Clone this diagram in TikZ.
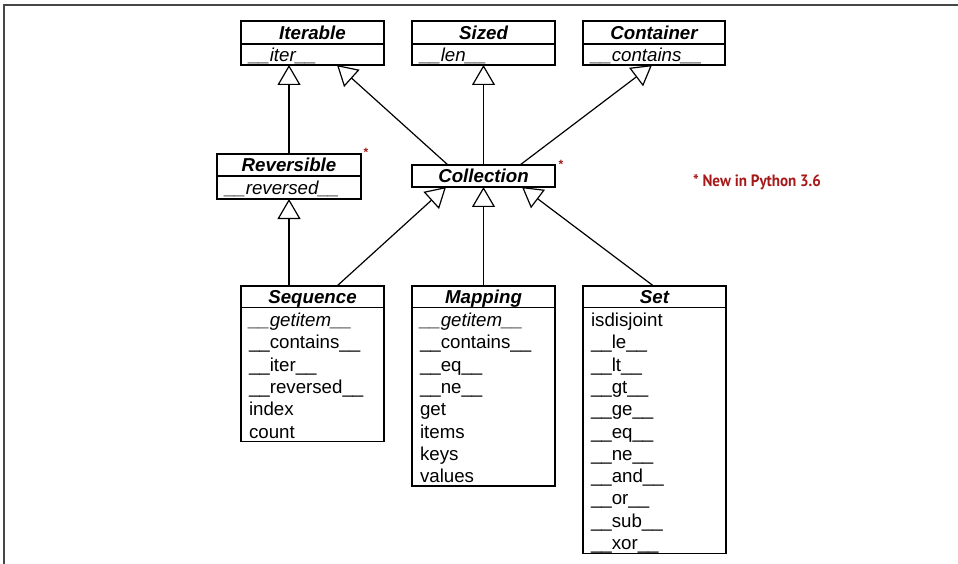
\documentclass[tikz,border=0pt]{standalone}
\usepackage{fontspec}
\setmainfont{Liberation Sans}
\newfontfamily\notefont{PT Sans}
\usetikzlibrary{arrows.meta}
\definecolor{notered}{RGB}{165,25,25}
\definecolor{framegray}{RGB}{70,70,70}
\newcommand\rs{\rule[-3.3pt]{0pt}{22.3pt}}
\newcommand\us{\_\_}
\newcommand\tightlines{\lineskiplimit=-100pt\relax\lineskip=0pt\relax}
\begin{document}
\begin{tikzpicture}[x=1pt,y=-1pt,
  every node/.style={inner sep=0pt, outer sep=0pt},
  hdr/.style={draw, line width=1.3pt, anchor=north west, minimum width=143pt,
    minimum height=22pt, font=\fontsize{18.7}{22.3}\selectfont\bfseries\itshape,
    text height=14pt, text depth=0pt},
  meth/.style={draw, line width=1.3pt, anchor=north west, minimum width=143pt,
    minimum height=21pt, font=\fontsize{18.7}{22.3}\selectfont\itshape,
    text height=14pt, text depth=0pt, text width=127pt, align=left, inner xsep=8pt},
  bodybox/.style={draw, line width=1.3pt, anchor=north west, text width=127pt,
    inner xsep=8pt, inner ysep=0pt, align=left,
    font=\fontsize{18.7}{22.3}\selectfont\tightlines},
  gen/.style={line width=1.2pt, -{Triangle[open,length=20pt,width=23pt,line width=1.2pt]}},
  star/.style={text=notered, font=\fontsize{12}{12}\selectfont\bfseries},
  frame/.style={draw=framegray, line width=1.6pt}
]
\useasboundingbox (0,0) rectangle (958,564);
\draw[frame] (4,564) -- (4,5) -- (958,5);

% top row
\node[hdr, minimum height=23pt] (iterH) at (241,21) {Iterable};
\node[meth] (iterB) at (241,44) {\us iter\us};
\node[hdr, minimum height=23pt] (sizH) at (412,21) {Sized};
\node[meth] (sizB) at (412,44) {\us len\us};
\node[hdr, minimum height=23pt, minimum width=142pt] (conH) at (583,21) {Container};
\node[meth, minimum width=142pt, text width=126pt] (conB) at (583,44) {\us contains\us};

% middle row
\node[hdr, minimum width=144pt] (revH) at (217,154) {Reversible};
\node[meth, minimum width=144pt, minimum height=23pt, text width=128pt] (revB) at (217,176) {\us reversed\us};
\node[hdr] (coll) at (412,165) {Collection};

\node[star] (s1) at (366,152) {*};
\node[star] (s2) at (561,164) {*};

\node[text=notered, anchor=center] (note) at (757,182)
  {\resizebox{128pt}{12pt}{\notefont\bfseries * New in Python 3.6}};

% bottom row
\node[hdr, minimum height=21.5pt] (seqH) at (241,286) {Sequence};
\node[bodybox] (seqB) at (241,307.5) {\rs\textit{\us getitem\us}\\\rs\us contains\us\\\rs\us iter\us\\\rs\us reversed\us\\\rs index\\\rs count};
\node[hdr, minimum height=21.5pt] (mapH) at (412,286) {Mapping};
\node[bodybox] (mapB) at (412,307.5) {\rs\textit{\us getitem\us}\\\rs\us contains\us\\\rs\us eq\us\\\rs\us ne\us\\\rs get\\\rs items\\\rs keys\\\rs values};
\node[hdr, minimum height=21.5pt] (setH) at (583,286) {Set};
\node[bodybox] (setB) at (583,307.5) {\rs isdisjoint\\\rs\us le\us\\\rs\us lt\us\\\rs\us gt\us\\\rs\us ge\us\\\rs\us eq\us\\\rs\us ne\us\\\rs\us and\us\\\rs\us or\us\\\rs\us sub\us\\\rs\us xor\us};

% generalizations
\draw[gen] (revH.north) -- (revH.north |- iterB.south);
\draw[gen] ([xshift=-35.5pt]coll.north) -- ([xshift=24.5pt]iterB.south);
\draw[gen] (coll.north) -- (sizB.south);
\draw[gen] ([xshift=36.5pt]coll.north) -- ([xshift=-2pt]conB.south);
\draw[gen] (revB.south |- seqH.north) -- (revB.south);
\draw[gen] ([xshift=24.5pt]seqH.north) -- ([xshift=-37.5pt]coll.south);
\draw[gen] (mapH.north) -- (coll.south);
\draw[gen] ([xshift=-1pt]setH.north) -- ([xshift=38.5pt]coll.south);
\end{tikzpicture}
\end{document}
